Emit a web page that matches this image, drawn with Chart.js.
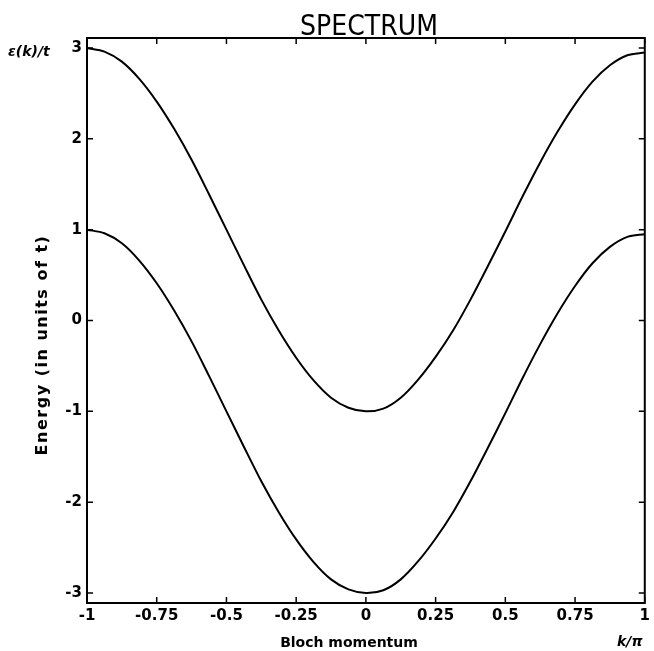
<!DOCTYPE html>
<html>
<head>
<meta charset="utf-8">
<script src="https://cdn.jsdelivr.net/npm/chart.js@4.4.1/dist/chart.umd.min.js"></script>
<style>
  html, body { margin: 0; padding: 0; background: #fff; }
  #wrap { width: 654px; height: 651px; }
</style>
</head>
<body>
<div id="wrap"><canvas id="spectrum" width="654" height="651"></canvas></div>
<script>
// Dữ liệu (k/π và năng lượng theo đơn vị t)
const kValues = [-1, -0.9375, -0.875, -0.8125, -0.75, -0.6875, -0.625, -0.5625, -0.5, -0.4375, -0.375, -0.3125, -0.25, -0.1875, -0.125, -0.0625,
  0, 0.0625, 0.125, 0.1875, 0.25, 0.3125, 0.375, 0.4375, 0.5, 0.5625, 0.625, 0.6875, 0.75, 0.8125, 0.875, 0.9375, 1];
const upperBand = [3.00, 2.96, 2.85, 2.66, 2.41, 2.11, 1.77, 1.39, 1.00, 0.61, 0.23, -0.11, -0.41, -0.66, -0.85, -0.96,
  -1.00, -0.97, -0.85, -0.65, -0.40, -0.11, 0.23, 0.60, 0.98, 1.37, 1.74, 2.08, 2.38, 2.63, 2.81, 2.92, 2.95];
const lowerBand = [1.00, 0.96, 0.85, 0.66, 0.41, 0.11, -0.23, -0.61, -1.00, -1.39, -1.77, -2.11, -2.41, -2.66, -2.85, -2.96,
  -3.00, -2.97, -2.85, -2.65, -2.40, -2.11, -1.77, -1.40, -1.02, -0.63, -0.26, 0.08, 0.38, 0.63, 0.81, 0.92, 0.95];

const xTicks = [-1, -0.75, -0.5, -0.25, 0, 0.25, 0.5, 0.75, 1];
const xTickLabels = ['-1', '-0.75', '-0.5', '-0.25', '0', '0.25', '0.5', '0.75', '1'];
const yTicks = [-3, -2, -1, 0, 1, 2, 3];
const yTickLabels = ['-3', '-2', '-1', '0', '1', '2', '3'];

const toPoints = (ys) => kValues.map((k, i) => ({ x: k, y: ys[i] }));

// Khung, vạch chia hướng vào trong và các nhãn chữ
const framePlugin = {
  id: 'frame',
  afterDraw(chart) {
    const { ctx, chartArea: a, scales } = chart;
    ctx.save();
    ctx.strokeStyle = '#000';
    ctx.lineWidth = 2;
    ctx.strokeRect(a.left, a.top, a.right - a.left, a.bottom - a.top);

    ctx.lineWidth = 1.5;
    const len = 6;
    xTicks.forEach(v => {
      const px = scales.x.getPixelForValue(v);
      ctx.beginPath();
      ctx.moveTo(px, a.bottom); ctx.lineTo(px, a.bottom - len);
      ctx.moveTo(px, a.top); ctx.lineTo(px, a.top + len);
      ctx.stroke();
    });
    yTicks.forEach(v => {
      const py = scales.y.getPixelForValue(v);
      ctx.beginPath();
      ctx.moveTo(a.left, py); ctx.lineTo(a.left + len, py);
      ctx.moveTo(a.right, py); ctx.lineTo(a.right - len, py);
      ctx.stroke();
    });

    ctx.fillStyle = '#000';
    // Tiêu đề
    ctx.font = '28px "Liberation Sans Narrow", "DejaVu Sans Condensed", "Liberation Sans", sans-serif';
    ctx.textAlign = 'center';
    ctx.textBaseline = 'alphabetic';
    ctx.fillText('SPECTRUM', 369, 35);

    // Nhãn trục
    ctx.font = 'italic bold 14px "DejaVu Sans", sans-serif';
    ctx.textAlign = 'left';
    ctx.textBaseline = 'middle';
    ctx.fillText('ε(k)/t', 8, 52);
    ctx.fillText('k/π', 617, 642);

    ctx.font = 'bold 14px "DejaVu Sans", sans-serif';
    ctx.textAlign = 'center';
    ctx.fillText('Bloch momentum', 349, 643);

    ctx.translate(43, 345);
    ctx.rotate(-Math.PI / 2);
    ctx.font = 'bold 16px "DejaVu Sans", sans-serif';
    ctx.letterSpacing = '1.5px';
    ctx.fillText('Energy (in units of t)', 0, 0);
    ctx.restore();
  }
};

new Chart(document.getElementById('spectrum'), {
  type: 'line',
  data: {
    datasets: [
      { label: 'upper', data: toPoints(upperBand), borderColor: '#000', backgroundColor: '#000' },
      { label: 'lower', data: toPoints(lowerBand), borderColor: '#000', backgroundColor: '#000' }
    ]
  },
  options: {
    responsive: false,
    animation: false,
    events: [],
    layout: { padding: { top: 38, right: 4, left: 0, bottom: 0 } },
    elements: {
      line: { borderWidth: 2, tension: 0.3, fill: false },
      point: { radius: 0 }
    },
    plugins: { legend: { display: false }, tooltip: { enabled: false }, title: { display: false }, colors: { enabled: false } },
    scales: {
      x: {
        type: 'linear',
        min: -1,
        max: 1,
        afterBuildTicks: (s) => { s.ticks = xTicks.map(v => ({ value: v })); },
        afterFit: (s) => { s.height = 48; },
        grid: { display: false, drawTicks: false },
        border: { display: false },
        ticks: {
          color: '#000',
          padding: 4,
          maxRotation: 0,
          font: { family: 'DejaVu Sans', size: 15, weight: 'bold' },
          callback: (v) => xTickLabels[xTicks.indexOf(v)]
        }
      },
      y: {
        type: 'linear',
        min: -3.11,
        max: 3.11,
        afterBuildTicks: (s) => { s.ticks = yTicks.map(v => ({ value: v })); },
        afterFit: (s) => { s.width = 87; },
        grid: { display: false, drawTicks: false },
        border: { display: false },
        ticks: {
          color: '#000',
          padding: 5,
          font: { family: 'DejaVu Sans', size: 15, weight: 'bold' },
          callback: (v) => yTickLabels[yTicks.indexOf(v)]
        }
      }
    }
  },
  plugins: [framePlugin]
});
</script>
</body>
</html>
